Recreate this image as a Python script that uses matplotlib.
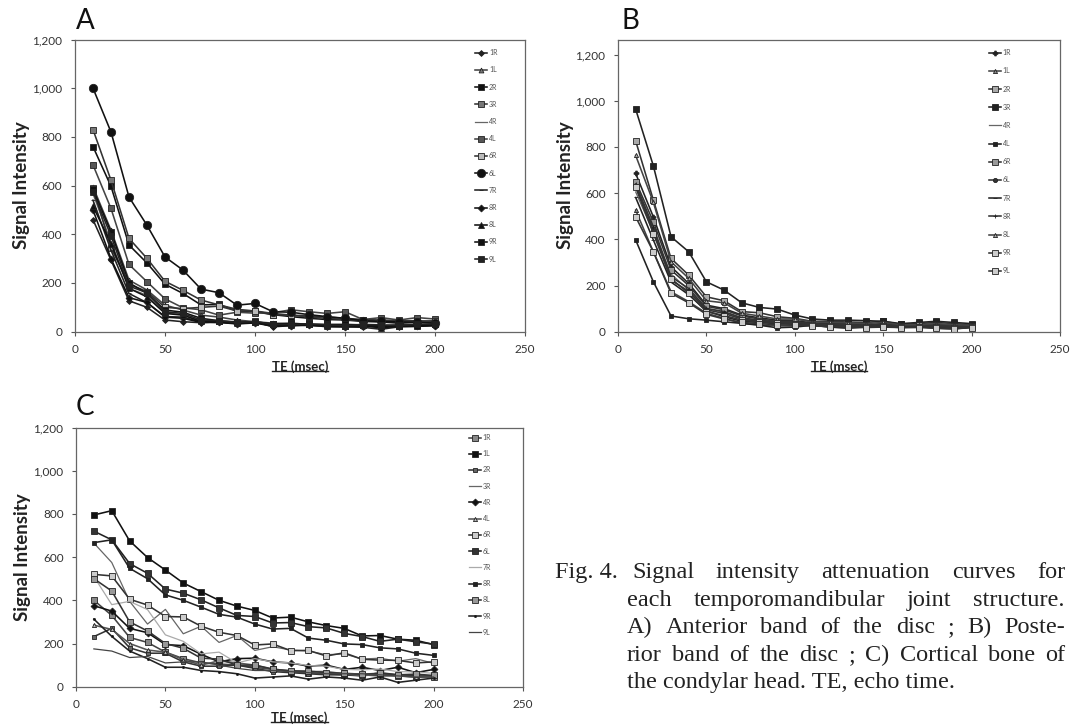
import numpy as np
import matplotlib.pyplot as plt
from matplotlib.lines import Line2D

W, H = 1075, 728
plt.rcParams['font.family'] = ['Lato', 'DejaVu Sans']

te = [10, 20, 30, 40, 50, 60, 70, 80, 90, 100, 110, 120, 130, 140, 150, 160, 170, 180, 190, 200]
labels = ['1R', '1L', '2R', '3R', '4R', '4L', '6R', '6L', '7R', '8R', '8L', '9R', '9L']

# panel A: anterior band of the disc
a_vals = {
    '1R': [460, 294, 127, 100, 48, 41, 37, 41, 34, 41, 20, 25, 28, 20, 20, 18, 10, 20, 22, 25],
    '1L': [595, 417, 212, 171, 109, 89, 68, 60, 48, 41, 35, 32, 30, 28, 28, 25, 22, 25, 25, 28],
    '2R': [760, 597, 356, 282, 195, 157, 110, 112, 85, 82, 70, 62, 55, 50, 48, 42, 40, 35, 38, 40],
    '3R': [830, 622, 383, 301, 207, 170, 130, 110, 92, 85, 75, 68, 60, 55, 50, 45, 45, 40, 42, 45],
    '4R': [565, 370, 178, 150, 78, 70, 45, 40, 36, 38, 28, 30, 28, 25, 25, 25, 22, 25, 28, 30],
    '4L': [685, 506, 276, 205, 135, 98, 90, 68, 80, 76, 78, 90, 82, 75, 82, 50, 58, 48, 58, 52],
    '6R': [590, 345, 195, 165, 100, 95, 100, 105, 85, 85, 70, 68, 65, 60, 55, 50, 48, 45, 45, 42],
    '6L': [1000, 820, 553, 437, 307, 253, 175, 160, 109, 116, 82, 80, 70, 62, 55, 45, 42, 40, 38, 35],
    '7R': [540, 335, 157, 119, 62, 60, 40, 38, 34, 36, 25, 28, 26, 24, 24, 26, 20, 24, 24, 28],
    '8R': [500, 300, 140, 120, 60, 55, 38, 38, 32, 36, 22, 25, 26, 22, 20, 22, 18, 22, 22, 25],
    '8L': [515, 362, 178, 143, 75, 68, 42, 42, 35, 38, 30, 28, 30, 25, 22, 28, 15, 25, 28, 30],
    '9R': [585, 410, 201, 157, 89, 80, 55, 45, 40, 40, 32, 35, 30, 30, 30, 28, 25, 28, 25, 30],
    '9L': [575, 394, 187, 160, 82, 75, 48, 45, 38, 42, 30, 30, 32, 28, 25, 30, 28, 25, 30, 32],
}

# panel B: posterior band of the disc
b_vals = {
    '1R': [685, 497, 281, 209, 115, 100, 72, 60, 50, 48, 38, 35, 35, 30, 35, 28, 30, 32, 28, 25],
    '1L': [526, 346, 173, 130, 80, 58, 36, 30, 25, 25, 28, 20, 18, 20, 22, 18, 20, 18, 15, 18],
    '2R': [826, 570, 317, 245, 151, 134, 87, 82, 65, 58, 45, 45, 42, 40, 45, 32, 35, 40, 35, 30],
    '3R': [963, 718, 411, 346, 216, 180, 125, 105, 98, 72, 55, 50, 50, 48, 45, 35, 40, 45, 40, 35],
    '4R': [605, 430, 250, 180, 100, 85, 58, 48, 40, 40, 30, 28, 26, 24, 26, 22, 22, 22, 18, 20],
    '4L': [397, 216, 68, 56, 50, 43, 36, 28, 17, 20, 28, 20, 15, 20, 25, 18, 22, 15, 12, 20],
    '6R': [650, 476, 267, 200, 110, 95, 68, 55, 45, 45, 35, 32, 30, 28, 32, 25, 28, 30, 25, 25],
    '6L': [632, 440, 223, 175, 95, 79, 55, 45, 40, 38, 30, 28, 25, 25, 28, 22, 22, 25, 20, 22],
    '7R': [581, 397, 215, 160, 90, 65, 45, 40, 35, 32, 30, 25, 22, 20, 25, 20, 22, 20, 15, 20],
    '8R': [640, 454, 238, 187, 101, 87, 60, 50, 42, 40, 32, 30, 28, 28, 30, 25, 25, 28, 22, 22],
    '8L': [763, 560, 303, 231, 134, 125, 80, 68, 55, 55, 42, 40, 38, 35, 40, 30, 30, 35, 30, 28],
    '9R': [625, 425, 230, 166, 87, 70, 50, 43, 38, 35, 28, 25, 22, 22, 25, 20, 20, 22, 18, 20],
    '9L': [497, 346, 166, 125, 75, 55, 40, 35, 30, 28, 25, 22, 20, 18, 20, 18, 18, 15, 12, 18],
}

# panel C: cortical bone of the condylar head
c_vals = {
    '1R': [400, 330, 228, 205, 160, 130, 110, 105, 100, 90, 80, 70, 65, 60, 55, 55, 50, 50, 45, 45],
    '1L': [795, 815, 675, 598, 540, 480, 440, 400, 373, 353, 318, 322, 300, 283, 270, 235, 237, 220, 215, 195],
    '2R': [232, 270, 180, 155, 155, 115, 95, 95, 100, 85, 70, 65, 60, 55, 55, 50, 65, 55, 50, 50],
    '3R': [665, 575, 395, 290, 358, 245, 280, 205, 237, 168, 185, 170, 165, 148, 152, 128, 132, 118, 130, 108],
    '4R': [375, 350, 270, 250, 195, 190, 150, 115, 130, 132, 115, 110, 95, 100, 80, 90, 75, 90, 65, 80],
    '4L': [285, 265, 200, 170, 160, 125, 100, 120, 110, 100, 80, 75, 70, 70, 60, 50, 60, 50, 45, 50],
    '6R': [520, 513, 405, 378, 325, 323, 280, 252, 237, 193, 198, 167, 168, 142, 157, 127, 123, 122, 110, 115],
    '6L': [720, 680, 570, 525, 452, 433, 402, 365, 330, 325, 295, 297, 278, 272, 247, 232, 210, 220, 208, 197],
    '7R': [510, 380, 395, 357, 240, 210, 152, 160, 110, 130, 115, 110, 98, 95, 80, 78, 82, 70, 68, 62],
    '8R': [667, 680, 548, 500, 425, 400, 368, 335, 322, 290, 267, 270, 225, 215, 198, 195, 180, 175, 155, 145],
    '8L': [500, 443, 300, 258, 200, 178, 132, 128, 100, 100, 82, 72, 72, 65, 62, 58, 62, 55, 58, 52],
    '9R': [313, 233, 165, 130, 90, 90, 75, 70, 60, 40, 45, 50, 35, 45, 40, 30, 45, 20, 30, 40],
    '9L': [175, 165, 135, 140, 110, 115, 115, 100, 85, 75, 75, 70, 65, 60, 60, 60, 55, 50, 45, 45],
}

# marker, size, face colour, line colour
a_style = {
    '1R': ('D', 3, '#222', '#222'), '1L': ('^', 3.5, '#777', '#444'),
    '2R': ('s', 5, '#111', '#111'), '3R': ('s', 4, '#777', '#333'),
    '4R': ('', 0, '#777', '#666'), '4L': ('s', 4, '#555', '#444'),
    '6R': ('s', 4.5, '#bbb', '#333'), '6L': ('o', 6, '#111', '#111'),
    '7R': ('_', 3, '#222', '#222'), '8R': ('D', 3.5, '#111', '#111'),
    '8L': ('^', 4.5, '#111', '#111'), '9R': ('s', 4.5, '#111', '#111'),
    '9L': ('s', 4.5, '#222', '#222'),
}
b_style = {
    '1R': ('P', 3.5, '#222', '#222'), '1L': ('^', 3, '#888', '#444'),
    '2R': ('s', 4, '#aaa', '#333'), '3R': ('s', 4, '#222', '#222'),
    '4R': ('', 0, '#777', '#666'), '4L': ('s', 3.5, '#222', '#222'),
    '6R': ('s', 4, '#999', '#333'), '6L': ('o', 3, '#333', '#333'),
    '7R': ('_', 3, '#555', '#222'), '8R': ('+', 3.5, '#444', '#333'),
    '8L': ('^', 3, '#aaa', '#444'), '9R': ('s', 4, '#ccc', '#333'),
    '9L': ('s', 4, '#ccc', '#333'),
}
c_style = {
    '1R': ('s', 4, '#888', '#444'), '1L': ('s', 5, '#111', '#111'),
    '2R': ('s', 3, '#666', '#333'), '3R': ('', 0, '#888', '#666'),
    '4R': ('D', 3.5, '#111', '#111'), '4L': ('^', 3, '#bbb', '#555'),
    '6R': ('s', 4.5, '#ccc', '#333'), '6L': ('s', 4.5, '#333', '#222'),
    '7R': ('', 0, '#bbb', '#aaa'), '8R': ('s', 3.5, '#222', '#222'),
    '8L': ('s', 4.5, '#999', '#333'), '9R': ('.', 3, '#111', '#222'),
    '9L': ('', 0, '#666', '#444'),
}

fig = plt.figure(figsize=(W / 100, H / 100), dpi=100)


def px_axes(l, t, r, b):
    return fig.add_axes([l / W, 1 - b / H, (r - l) / W, (b - t) / H])


def draw_panel(ax, vals, style, ymax, leg_x, leg_y, leg_sp):
    for lab in labels:
        m, ms, fc, lc = style[lab]
        lw = 0.9 if m == '' else 1.15
        ax.plot(te, vals[lab], color=lc, lw=lw, marker=m if m else None,
                ms=ms, mfc=fc, mec='#222', mew=0.6, label=lab)
    ax.set_xlim(0, 250)
    ax.set_ylim(0, ymax)
    ax.set_xticks([0, 50, 100, 150, 200, 250])
    ax.set_yticks([0, 200, 400, 600, 800, 1000, 1200])
    ax.set_yticklabels(['0', '200', '400', '600', '800', '1,000', '1,200'])
    ax.tick_params(direction='out', length=3, width=0.8, color='#555',
                   labelsize=8.5, labelcolor='#333', pad=6)
    for sp in ax.spines.values():
        sp.set_color('#666')
        sp.set_linewidth(0.9)
    ax.set_ylabel('Signal Intensity', fontsize=13.5, fontweight='bold', color='#222')
    ax.yaxis.set_label_coords(-0.10, 0.5)
    leg = ax.legend(loc='upper left', bbox_to_anchor=(leg_x, leg_y), frameon=False,
                    fontsize=5, handlelength=1.7, handletextpad=0.3,
                    labelspacing=leg_sp, borderaxespad=0, borderpad=0)
    for t in leg.get_texts():
        t.set_color('#555')
    t = ax.text(0.5, -0.118, 'TE (msec)', transform=ax.transAxes, ha='center',
                va='center', fontsize=9.5, fontweight='bold', color='#222')
    return t


axA = px_axes(75, 39.5, 525, 331.7)
axB = px_axes(618, 39.5, 1060, 331.7)
axC = px_axes(76, 427.5, 523, 686.7)

tA = draw_panel(axA, a_vals, a_style, 1200, 0.889, 0.967, 1.47)
tB = draw_panel(axB, b_vals, b_style, 1265, 0.839, 0.967, 1.61)
tC = draw_panel(axC, c_vals, c_style, 1200, 0.879, 0.975, 1.33)

for letter, x, y in [('A', 76, 29), ('B', 621, 29), ('C', 76, 415)]:
    fig.text(x / W, 1 - y / H, letter, fontsize=20, va='baseline', ha='left', color='#111')

# caption, justified line by line
cap_font = dict(family=['Liberation Serif', 'DejaVu Serif'], fontsize=17.5, color='#222')
cap_lines = [
    (632, 578, 'Signal intensity attenuation curves for', True),
    (627, 606, 'each temporomandibular joint structure.', True),
    (627, 633, 'A) Anterior band of the disc ; B) Poste-', True),
    (627, 661, 'rior band of the disc ; C) Cortical bone of', True),
    (627, 688, 'the condylar head. TE, echo time.', False),
]
right_edge = 1065
fig.text(555 / W, 1 - 578 / H, 'Fig. 4.', va='baseline', ha='left', **cap_font)

fig.canvas.draw()
renderer = fig.canvas.get_renderer()
for x0, y0, line, justify in cap_lines:
    if not justify:
        fig.text(x0 / W, 1 - y0 / H, line, va='baseline', ha='left', **cap_font)
        continue
    words = [w for w in line.split(' ') if w != '']
    arts = [fig.text(0, 1 - y0 / H, w, va='baseline', ha='left', **cap_font) for w in words]
    widths = [a.get_window_extent(renderer).width for a in arts]
    gap = (right_edge - x0 - sum(widths)) / (len(words) - 1)
    x = x0
    for a, w in zip(arts, widths):
        a.set_x(x / W)
        x += w + gap

# underline the x labels
fig.canvas.draw()
for t in (tA, tB, tC):
    bb = t.get_window_extent(renderer)
    fig.add_artist(Line2D([bb.x0, bb.x1], [bb.y0 + 1.5, bb.y0 + 1.5], transform=None,
                          color='#222', lw=1.0))

fig.savefig('out.png', dpi=100)
